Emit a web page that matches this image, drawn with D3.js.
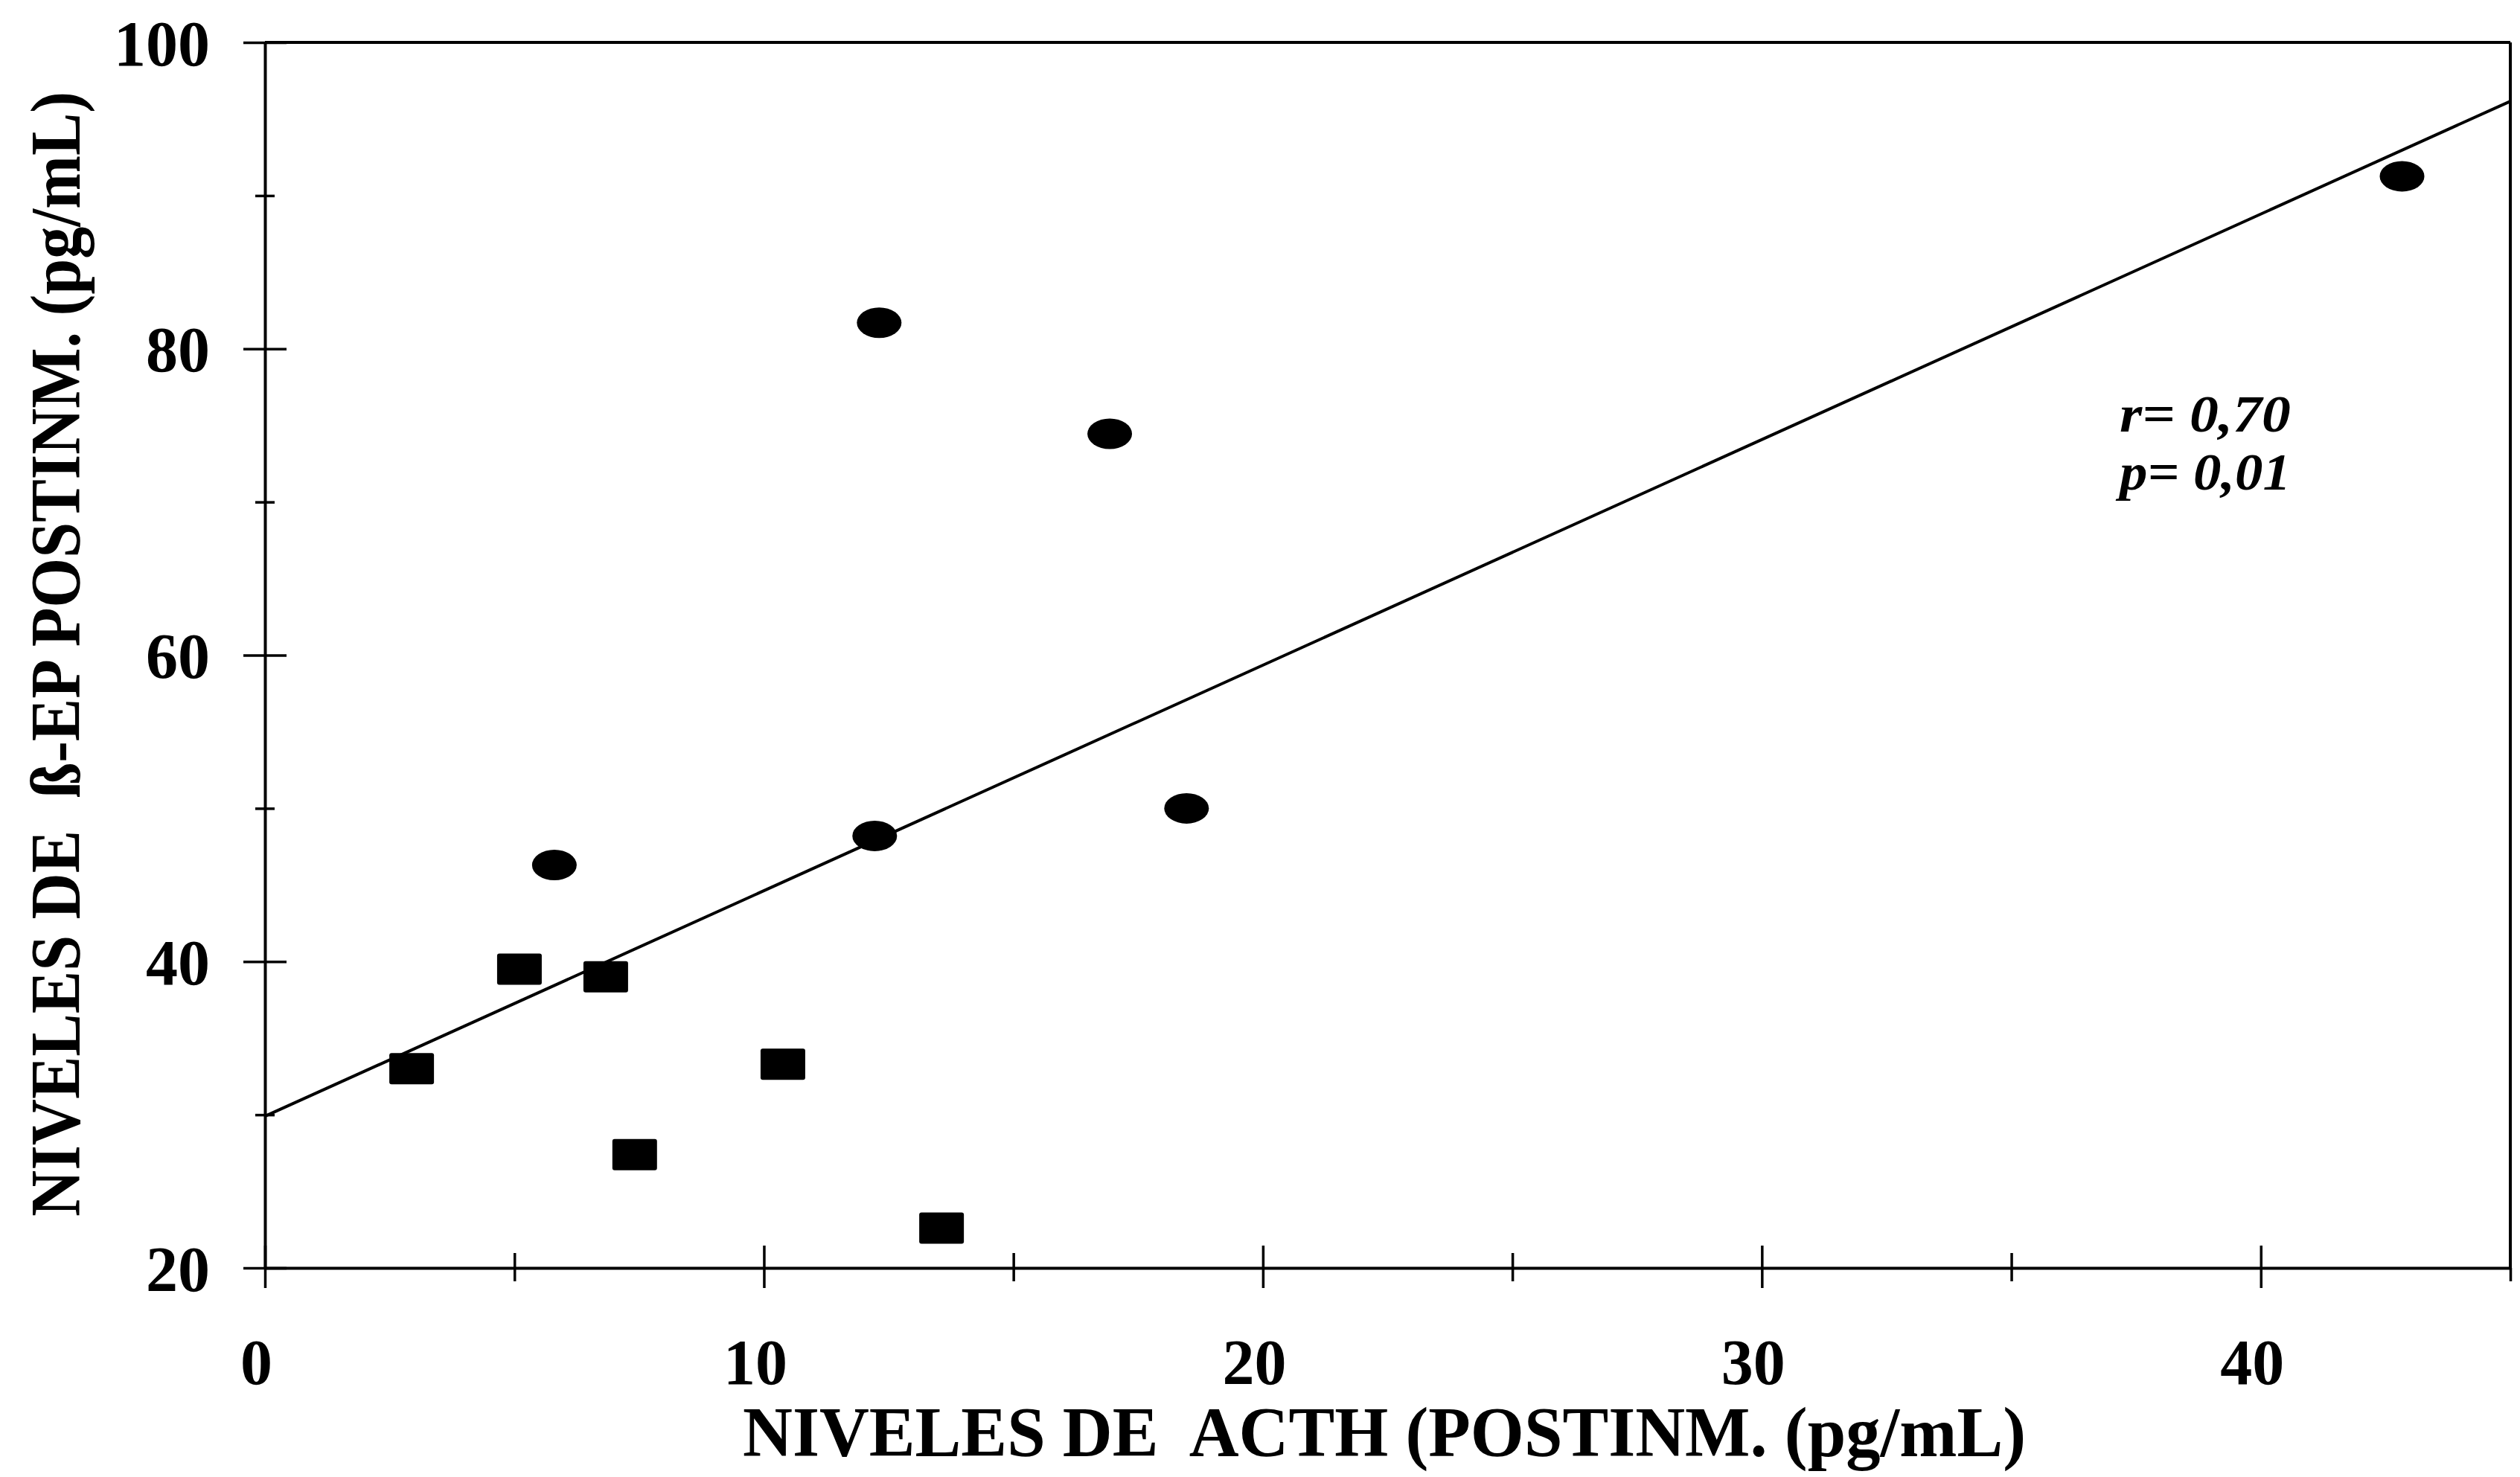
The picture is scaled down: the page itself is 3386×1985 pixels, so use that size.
<!DOCTYPE html>
<html>
<head>
<meta charset="utf-8">
<script src="https://cdn.jsdelivr.net/npm/d3@7"></script>
<style>
  html, body { margin: 0; padding: 0; background: #fff; }
  svg { display: block; }
  text { font-family: 'Liberation Serif', 'Times New Roman', serif; font-weight: bold; fill: #000; white-space: pre; }
</style>
</head>
<body>
<div id="chart"></div>
<script>
// postinm. ACTH (x) vs beta-EP (y), two groups
const acthSquares = [2.94, 5.10, 6.83, 7.41, 10.38, 13.56]
const betaEpSquares = [33.0, 39.5, 39.0, 27.4, 33.3, 22.6]
const acthCircles = [5.80, 12.22, 12.31, 16.93, 18.47, 42.83]
const betaEpCircles = [46.3, 48.2, 81.7, 74.45, 50.0, 91.26]

const xMajorTicks = [0, 10, 20, 30, 40]
const xMinorTicks = [5, 15, 25, 35, 45]
const yMajorTicks = [20, 40, 60, 80, 100]
const yMinorTicks = [30, 50, 70, 90]

const xTitle = 'NIVELES DE  ACTH (POSTINM. (pg/mL)'
const yTitle = 'NIVELES DE  ß-EP POSTINM. (pg/mL)'
const statLines = ['r= 0,70', 'p= 0,01']

const width = 3386
const height = 1985

const x = d3.scaleLinear().domain([0, 45]).range([356, 3373])
const y = d3.scaleLinear().domain([20, 100]).range([1704, 57])

const svg = d3.select('#chart')
  .append('svg')
  .attr('width', width)
  .attr('height', height)

svg.append('rect')
  .attr('width', width)
  .attr('height', height)
  .attr('fill', '#fff')

// frame (top + right)
svg.append('line')
  .attr('x1', x(0)).attr('x2', x(45))
  .attr('y1', y(100)).attr('y2', y(100))
  .attr('stroke', '#000').attr('stroke-width', 4)
svg.append('line')
  .attr('x1', x(45)).attr('x2', x(45))
  .attr('y1', y(100)).attr('y2', y(20))
  .attr('stroke', '#000').attr('stroke-width', 4)

function styleAxis (g) {
  g.select('.domain').attr('stroke', '#000').attr('stroke-width', 4)
  g.selectAll('.tick line').attr('stroke', '#000').attr('stroke-width', 3.5)
}

// x axis, ticks cross the line
const xAxis = svg.append('g')
  .attr('transform', `translate(0, ${y(20)})`)
  .call(d3.axisBottom(x).tickValues(xMajorTicks).tickSizeInner(27).tickSizeOuter(0).tickFormat(d3.format('d')))
  .call(styleAxis)
xAxis.selectAll('.tick line').attr('y1', -30)
xAxis.selectAll('.tick text')
  .attr('y', 156)
  .attr('dy', 0)
  .attr('dx', -12)
  .style('font-size', '86px')

const xMinor = svg.append('g')
  .attr('transform', `translate(0, ${y(20)})`)
  .call(d3.axisBottom(x).tickValues(xMinorTicks).tickSizeInner(18).tickSizeOuter(0).tickFormat(''))
  .call(styleAxis)
xMinor.select('.domain').remove()
xMinor.selectAll('.tick line').attr('y1', (d) => (d === 45 ? 0 : -20))

// y axis
const yAxis = svg.append('g')
  .attr('transform', `translate(${x(0)}, 0)`)
  .call(d3.axisLeft(y).tickValues(yMajorTicks).tickSizeInner(29).tickSizeOuter(0).tickFormat(d3.format('d')))
  .call(styleAxis)
yAxis.selectAll('.tick line').attr('x1', 29)
yAxis.selectAll('.tick text')
  .attr('x', -74)
  .attr('dy', '0.35em')
  .style('font-size', '86px')

const yMinor = svg.append('g')
  .attr('transform', `translate(${x(0)}, 0)`)
  .call(d3.axisLeft(y).tickValues(yMinorTicks).tickSizeInner(13).tickSizeOuter(0).tickFormat(''))
  .call(styleAxis)
yMinor.select('.domain').remove()
yMinor.selectAll('.tick line').attr('x1', 13)

// regression over all points
const allX = acthSquares.concat(acthCircles)
const allY = betaEpSquares.concat(betaEpCircles)
const mx = d3.mean(allX)
const my = d3.mean(allY)
const sxy = d3.sum(allX, (v, i) => (v - mx) * (allY[i] - my))
const sxx = d3.sum(allX, (v) => (v - mx) * (v - mx))
const slope = sxy / sxx
const intercept = my - slope * mx

svg.append('line')
  .attr('x1', x(0)).attr('y1', y(intercept))
  .attr('x2', x(45)).attr('y2', y(intercept + slope * 45))
  .attr('stroke', '#000')
  .attr('stroke-width', 4)

// squares
svg.selectAll('rect.sq')
  .data(acthSquares.map((v, i) => [v, betaEpSquares[i]]))
  .enter()
  .append('rect')
  .attr('class', 'sq')
  .attr('x', (d) => x(d[0]) - 30)
  .attr('y', (d) => y(d[1]) - 21)
  .attr('width', 60)
  .attr('height', 42)
  .attr('rx', 3)
  .attr('fill', '#000')

// ellipses
svg.selectAll('ellipse.pt')
  .data(acthCircles.map((v, i) => [v, betaEpCircles[i]]))
  .enter()
  .append('ellipse')
  .attr('class', 'pt')
  .attr('cx', (d) => x(d[0]))
  .attr('cy', (d) => y(d[1]))
  .attr('rx', 30)
  .attr('ry', 20.5)
  .attr('fill', '#000')

// stats
svg.selectAll('text.stat')
  .data(statLines)
  .enter()
  .append('text')
  .attr('class', 'stat')
  .attr('x', 2848)
  .attr('y', (d, i) => 580 + i * 78)
  .attr('textLength', 230)
  .attr('lengthAdjust', 'spacingAndGlyphs')
  .style('font-style', 'italic')
  .style('font-size', '70px')
  .text((d) => d)

// titles
svg.append('text')
  .attr('x', 998)
  .attr('y', 1957)
  .attr('textLength', 1724)
  .attr('lengthAdjust', 'spacingAndGlyphs')
  .style('font-size', '96px')
  .text(xTitle)

svg.append('text')
  .attr('transform', 'translate(107, 879) rotate(-90)')
  .attr('text-anchor', 'middle')
  .attr('textLength', 1512)
  .attr('lengthAdjust', 'spacingAndGlyphs')
  .style('font-size', '96px')
  .text(yTitle)
</script>
</body>
</html>
